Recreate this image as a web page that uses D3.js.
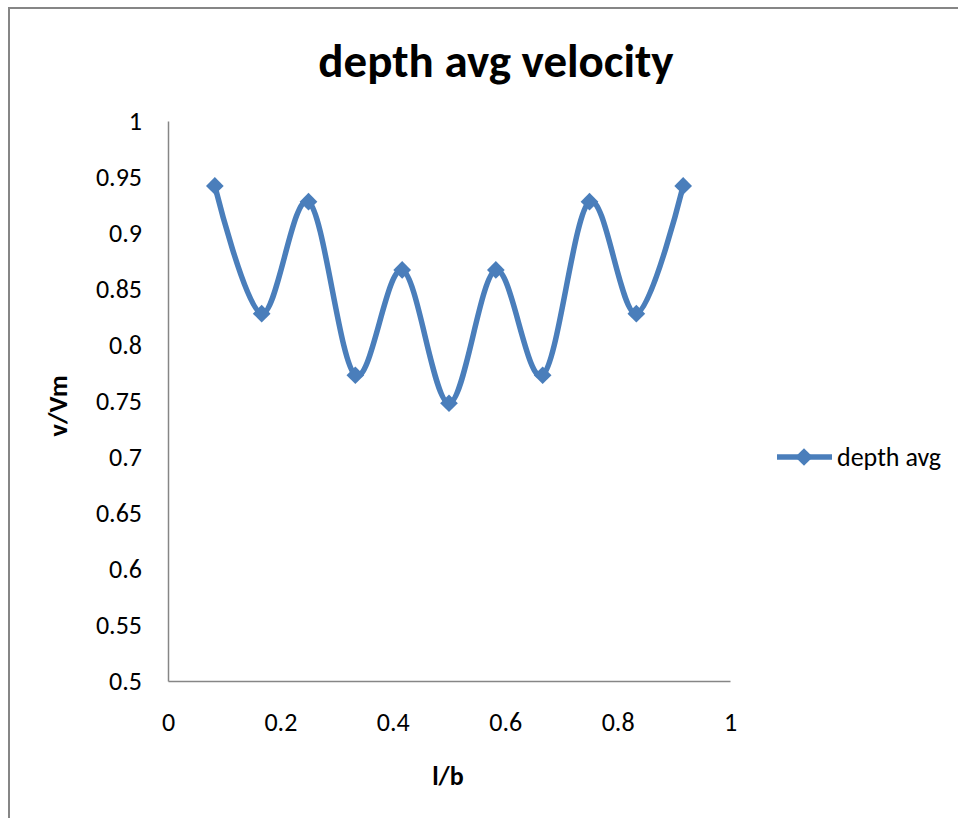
<!DOCTYPE html>
<html>
<head>
<meta charset="utf-8">
<script src="https://cdn.jsdelivr.net/npm/d3@7"></script>
<style>
  body { margin: 0; background: #fff; }
  text { font-family: Carlito, "Open Sans", sans-serif; fill: #000; }
</style>
</head>
<body>
<div id="chart"></div>
<script>
// data
const xValues = [1/12, 2/12, 3/12, 4/12, 5/12, 6/12, 7/12, 8/12, 9/12, 10/12, 11/12];
const depthAvg = [0.942, 0.828, 0.928, 0.773, 0.867, 0.748, 0.867, 0.773, 0.928, 0.828, 0.942];
const xTicks = [0, 0.2, 0.4, 0.6, 0.8, 1];
const yTicks = [0.5, 0.55, 0.6, 0.65, 0.7, 0.75, 0.8, 0.85, 0.9, 0.95, 1];
const seriesName = 'depth avg';

const width = 958;
const height = 818;
const padding = { top: 121, right: 228, bottom: 137, left: 168 };
const blue = '#4a7ebb';

const dataSet = xValues.map(function(x, i) { return [x, depthAvg[i]]; });

const xScale = d3.scaleLinear()
    .domain([0, 1])
    .range([padding.left, width - padding.right]);
const yScale = d3.scaleLinear()
    .domain([0.5, 1])
    .range([height - padding.bottom, padding.top]);

const svg = d3.select('#chart')
    .append('svg')
    .attr('width', width)
    .attr('height', height);

// chart frame (right and bottom edges fall outside the picture)
svg.append('rect')
    .attr('x', 9).attr('y', 8)
    .attr('width', 1000).attr('height', 1000)
    .attr('fill', 'none')
    .attr('stroke', '#868686')
    .attr('stroke-width', 2);

// title
svg.append('text')
    .attr('x', 496).attr('y', 77)
    .attr('text-anchor', 'middle')
    .style('font-size', '47px')
    .style('font-weight', 'bold')
    .text('depth avg velocity');

const xAxis = d3.axisBottom(xScale).tickValues(xTicks).tickSize(0).tickPadding(32)
    .tickFormat(function(d) { return String(d); });
const yAxis = d3.axisLeft(yScale).tickValues(yTicks).tickSize(0).tickPadding(26)
    .tickFormat(function(d) { return String(d); });

const gx = svg.append('g')
    .attr('transform', 'translate(0,' + (height - padding.bottom) + ')')
    .call(xAxis);
const gy = svg.append('g')
    .attr('transform', 'translate(' + padding.left + ',0)')
    .call(yAxis);

[gx, gy].forEach(function(g) {
    g.select('.domain').attr('stroke', '#868686').attr('stroke-width', 1.5);
    g.selectAll('text')
        .style('font-family', 'Carlito, "Open Sans", sans-serif')
        .style('font-size', '26px')
        .attr('fill', '#000');
});

// axis titles
svg.append('text')
    .attr('x', 448).attr('y', 785)
    .attr('text-anchor', 'middle')
    .style('font-size', '26px')
    .style('font-weight', 'bold')
    .text('l/b');

svg.append('text')
    .attr('transform', 'translate(67,406) rotate(-90)')
    .attr('text-anchor', 'middle')
    .style('font-size', '27px')
    .style('font-weight', 'bold')
    .text('v/Vm');

// smoothed line
const linePath = d3.line()
    .x(function(d) { return xScale(d[0]); })
    .y(function(d) { return yScale(d[1]); })
    .curve(d3.curveCardinal.tension(0));

svg.append('path')
    .attr('d', linePath(dataSet))
    .attr('fill', 'none')
    .attr('stroke', blue)
    .attr('stroke-width', 5.5);

const diamond = d3.symbol().type(d3.symbolDiamond2).size(200);

svg.append('g')
    .selectAll('path')
    .data(dataSet)
    .enter()
    .append('path')
    .attr('d', diamond)
    .attr('transform', function(d) {
        return 'translate(' + xScale(d[0]) + ',' + yScale(d[1]) + ')';
    })
    .attr('fill', blue);

// legend
const legend = svg.append('g').attr('transform', 'translate(777,457)');
legend.append('line')
    .attr('x1', 0).attr('x2', 55)
    .attr('stroke', blue).attr('stroke-width', 5.5);
legend.append('path')
    .attr('d', diamond)
    .attr('transform', 'translate(27,0)')
    .attr('fill', blue);
legend.append('text')
    .attr('x', 60).attr('y', 0)
    .attr('dy', '0.33em')
    .style('font-size', '26px')
    .text(seriesName);
</script>
</body>
</html>
